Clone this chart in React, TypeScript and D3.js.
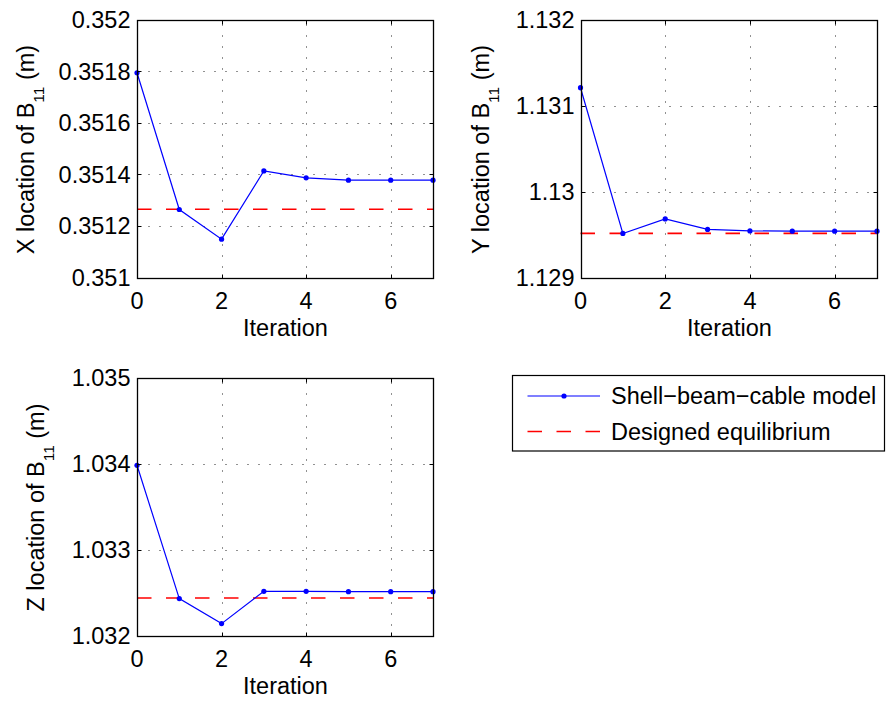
import React from "react";
import * as d3 from "d3";

// Iteration index shared by all three panels
const iterations = [0, 1, 2, 3, 4, 5, 6, 7];
const xTicks = [0, 2, 4, 6];

// X coordinate of node B11 per iteration, and the designed equilibrium value
const xLocation = [0.351795, 0.351264, 0.351149, 0.351414, 0.351387, 0.351378, 0.351378, 0.351378];
const xEquilibrium = 0.351265;
const xLocTicks = [0.351, 0.3512, 0.3514, 0.3516, 0.3518, 0.352];
const xLocTickLabels = ["0.351", "0.3512", "0.3514", "0.3516", "0.3518", "0.352"];

// Y coordinate of node B11
const yLocation = [1.131211, 1.129513, 1.129683, 1.12956, 1.129543, 1.12954, 1.12954, 1.12954];
const yEquilibrium = 1.129515;
const yLocTicks = [1.129, 1.13, 1.131, 1.132];
const yLocTickLabels = ["1.129", "1.13", "1.131", "1.132"];

// Z coordinate of node B11
const zLocation = [1.033985, 1.032435, 1.032144, 1.03252, 1.03252, 1.032515, 1.032515, 1.032515];
const zEquilibrium = 1.032442;
const zLocTicks = [1.032, 1.033, 1.034, 1.035];
const zLocTickLabels = ["1.032", "1.033", "1.034", "1.035"];

const legendLabels = ["Shell\u2212beam\u2212cable model", "Designed equilibrium"];

const FONT = "'Liberation Sans', Arial, Helvetica, sans-serif";
const FS = 23.5;
const BLUE = "#0000ff";
const RED = "#ff0000";
const DASH = "14.5,14.5";

type PanelProps = {
  left: number;
  top: number;
  width: number;
  height: number;
  values: number[];
  equilibrium: number;
  yDomain: [number, number];
  yTicks: number[];
  yTickLabels: string[];
  axisLetter: string;
  labelOffset: number;
};

function Panel(p: PanelProps) {
  const x = d3.scaleLinear().domain([0, 7]).range([p.left, p.left + p.width]);
  const y = d3.scaleLinear().domain(p.yDomain).range([p.top + p.height, p.top]);
  const crisp = (v: number) => Math.round(v) + 0.5;
  const line = d3
    .line<number>()
    .x((_, i) => x(iterations[i]))
    .y((d) => y(d));
  const x0 = crisp(x(0));
  const x1 = crisp(x(7));
  const yb = crisp(y(p.yDomain[0]));
  const yt = crisp(y(p.yDomain[1]));
  const tickLen = 4;
  const cy = (yt + yb) / 2;
  const cx = (x0 + x1) / 2;
  return (
    <g>
      {/* grid */}
      {xTicks
        .filter((t) => t > 0)
        .map((t) => (
          <line
            key={"gx" + t}
            x1={crisp(x(t))}
            x2={crisp(x(t))}
            y1={yb}
            y2={yt}
            stroke="#222"
            strokeWidth={1}
            strokeDasharray="1,10"
          />
        ))}
      {p.yTicks.slice(1, -1).map((t) => (
        <line
          key={"gy" + t}
          x1={x0}
          x2={x1}
          y1={crisp(y(t))}
          y2={crisp(y(t))}
          stroke="#222"
          strokeWidth={1}
          strokeDasharray="1,10"
        />
      ))}
      {/* designed equilibrium */}
      <line
        x1={x(0)}
        x2={x(7)}
        y1={y(p.equilibrium)}
        y2={y(p.equilibrium)}
        stroke={RED}
        strokeWidth={1.7}
        strokeDasharray={DASH}
      />
      {/* iterations */}
      <path d={line(p.values) || ""} fill="none" stroke={BLUE} strokeWidth={1.2} />
      {p.values.map((v, i) => (
        <circle key={"m" + i} cx={x(iterations[i])} cy={y(v)} r={2.6} fill={BLUE} />
      ))}
      {/* ticks */}
      {xTicks.map((t) => (
        <g key={"tx" + t}>
          <line x1={crisp(x(t))} x2={crisp(x(t))} y1={yb} y2={yb - tickLen} stroke="#000" />
          <line x1={crisp(x(t))} x2={crisp(x(t))} y1={yt} y2={yt + tickLen} stroke="#000" />
          <text
            x={x(t)}
            y={yb + 30}
            textAnchor="middle"
            fontFamily={FONT}
            fontSize={FS}
            fill="#000"
          >
            {t}
          </text>
        </g>
      ))}
      {p.yTicks.map((t, i) => (
        <g key={"ty" + t}>
          <line x1={x0} x2={x0 + tickLen} y1={crisp(y(t))} y2={crisp(y(t))} stroke="#000" />
          <line x1={x1} x2={x1 - tickLen} y1={crisp(y(t))} y2={crisp(y(t))} stroke="#000" />
          <text
            x={x0 - 7}
            y={y(t)}
            dy="0.36em"
            textAnchor="end"
            fontFamily={FONT}
            fontSize={FS}
            fill="#000"
          >
            {p.yTickLabels[i]}
          </text>
        </g>
      ))}
      {/* box */}
      <rect x={x0} y={yt} width={x1 - x0} height={yb - yt} fill="none" stroke="#000" strokeWidth={1.3} />
      {/* axis titles */}
      <text
        x={cx}
        y={yb + 57.5}
        textAnchor="middle"
        fontFamily={FONT}
        fontSize={FS}
        fill="#000"
      >
        Iteration
      </text>
      <text
        transform={`translate(${x0 - p.labelOffset},${cy}) rotate(-90)`}
        textAnchor="middle"
        fontFamily={FONT}
        fontSize={FS}
        fill="#000"
      >
        {`${p.axisLetter} location of B`}
        <tspan fontSize={15.5} dy={10}>
          11
        </tspan>
        <tspan dy={-10}>{"\u00a0(m)"}</tspan>
      </text>
    </g>
  );
}

export default function App() {
  return (
    <svg
      width={888}
      height={703}
      style={{ position: "absolute", left: 0, top: 0, background: "#fff" }}
    >
      <rect x={0} y={0} width={888} height={703} fill="#fff" />
      <Panel
        left={137}
        top={20}
        width={296}
        height={257.5}
        values={xLocation}
        equilibrium={xEquilibrium}
        yDomain={[0.351, 0.352]}
        yTicks={xLocTicks}
        yTickLabels={xLocTickLabels}
        axisLetter="X"
        labelOffset={104}
      />
      <Panel
        left={580.5}
        top={20}
        width={296.5}
        height={257.5}
        values={yLocation}
        equilibrium={yEquilibrium}
        yDomain={[1.129, 1.132]}
        yTicks={yLocTicks}
        yTickLabels={yLocTickLabels}
        axisLetter="Y"
        labelOffset={93}
      />
      <Panel
        left={137}
        top={378}
        width={296}
        height={258}
        values={zLocation}
        equilibrium={zEquilibrium}
        yDomain={[1.032, 1.035]}
        yTicks={zLocTicks}
        yTickLabels={zLocTickLabels}
        axisLetter="Z"
        labelOffset={94}
      />
      {/* legend */}
      <g>
        <rect x={512.5} y={375.5} width={372} height={75.5} fill="#fff" stroke="#000" strokeWidth={1.2} />
        <line x1={527.5} x2={600} y1={396} y2={396} stroke={BLUE} strokeWidth={1.2} />
        <circle cx={564} cy={396} r={2.6} fill={BLUE} />
        <line
          x1={527.5}
          x2={600}
          y1={431.5}
          y2={431.5}
          stroke={RED}
          strokeWidth={1.7}
          strokeDasharray={DASH}
        />
        {legendLabels.map((l, i) => (
          <text
            key={l}
            x={611}
            y={396 + i * 35.5}
            dy="0.36em"
            fontFamily={FONT}
            fontSize={FS}
            fill="#000"
          >
            {l}
          </text>
        ))}
      </g>
    </svg>
  );
}
